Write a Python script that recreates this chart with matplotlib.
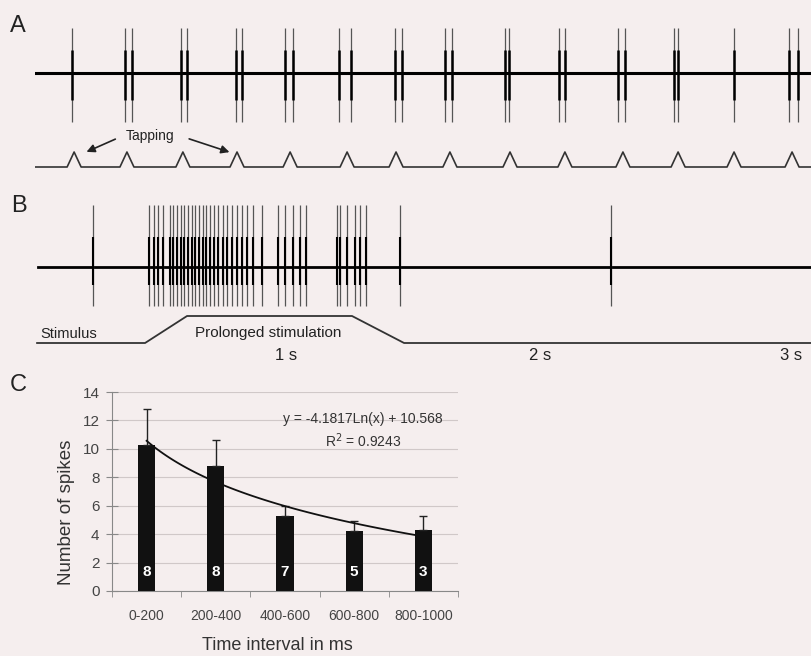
#recreate spike recordings + spike count bar chart
import numpy as np
import matplotlib
matplotlib.use('Agg')
import matplotlib.pyplot as plt

plt.rcParams['font.family'] = ['Liberation Sans', 'DejaVu Sans']

#panel A: spike times (s) and tapping times (s)
a_spikes = [0.143, 0.347, 0.375, 0.564, 0.587, 0.776, 0.799, 0.965, 0.996,
            1.174, 1.220, 1.390, 1.417, 1.583, 1.610, 1.815, 1.830, 2.023,
            2.046, 2.251, 2.278, 2.467, 2.483, 2.699, 2.911, 2.946]
taps = [0.151, 0.355, 0.571, 0.780, 0.985, 1.205, 1.394, 1.602, 1.834,
        2.046, 2.270, 2.483, 2.699, 2.923]

#panel B: spike times (s) and stimulus ramp
b_spikes = [0.224, 0.440, 0.459, 0.475, 0.494, 0.521, 0.533, 0.548, 0.564,
            0.575, 0.591, 0.606, 0.618, 0.633, 0.649, 0.660, 0.676, 0.691,
            0.707, 0.726, 0.741, 0.761, 0.780, 0.799, 0.819, 0.842, 0.876,
            0.938, 0.965, 0.996, 1.023, 1.046, 1.166, 1.178, 1.205, 1.236,
            1.255, 1.278, 1.409, 2.224]
stim_t = [0.0, 0.417, 0.579, 1.216, 1.417, 3.0]
stim_level = [0, 0, 1, 1, 0, 0]
scale_labels = ['1 s', '2 s', '3 s']
scale_pos = [0.97, 1.95, 2.92]

#panel C: bar data
intervals = ['0-200', '200-400', '400-600', '600-800', '800-1000']
mean_spikes = [10.3, 8.8, 5.3, 4.2, 4.3]
err_spikes = [2.5, 1.8, 0.7, 0.7, 1.0]
n_cells = [8, 8, 7, 5, 3]
fit_a, fit_b = -4.1817, 10.568

bg = '#f5eeee'
fig = plt.figure(figsize=(8.12, 6.56), dpi=100, facecolor=bg)

#---- panel A
ax_a = fig.add_axes([35/812, 1-175/656, 777/812, 155/656])
ax_a.set_xlim(0, 3)
ax_a.set_ylim(-102, 53)
ax_a.axis('off')
ax_a.axhline(0, color='black', lw=2.2)
ax_a.vlines(a_spikes, -49, 45, color='#555555', lw=0.9)
ax_a.vlines(a_spikes, -27, 23, color='black', lw=1.8)

tap_w, tap_h, tap_base = 0.027, 15, -94
tx, ty = [0.0], [0.0]
for t in taps:
    tx += [t - tap_w, t, t + tap_w]
    ty += [0, tap_h, 0]
tx.append(3.0)
ty.append(0.0)
ax_a.plot(tx, np.array(ty) + tap_base, color='#333333', lw=1.2)

ax_a.text(0.444, -63, 'Tapping', ha='center', va='center', fontsize=10, color='#222222')
arrow = dict(arrowstyle='-|>', color='#222222', lw=1.2, mutation_scale=12)
ax_a.annotate('', xy=(0.189, -80), xytext=(0.32, -65), arrowprops=arrow)
ax_a.annotate('', xy=(0.761, -80), xytext=(0.585, -65), arrowprops=arrow)

#---- panel B
ax_b = fig.add_axes([35/812, 1-365/656, 777/812, 170/656])
ax_b.set_xlim(0, 3)
ax_b.set_ylim(-98, 72)
ax_b.axis('off')
ax_b.plot([0.01, 3.0], [0, 0], color='black', lw=2.0)
ax_b.vlines(b_spikes, -39, 62, color='#555555', lw=0.9)
ax_b.vlines(b_spikes, -18, 30, color='black', lw=1.5)

stim_base, stim_h = -76, 27
ax_b.plot(np.array(stim_t) + 0.008, np.array(stim_level) * stim_h + stim_base,
          color='#333333', lw=1.3)
ax_b.text(0.02, -74, 'Stimulus', ha='left', va='bottom', fontsize=10.5, color='#222222')
ax_b.text(0.90, -66, 'Prolonged stimulation', ha='center', va='center',
          fontsize=11, color='#222222')
for lab, x in zip(scale_labels, scale_pos):
    ax_b.text(x, -89, lab, ha='center', va='center', fontsize=12, color='#222222')

#---- panel letters
fig.text(10/812, 1-26/656, 'A', fontsize=17, va='center', ha='left', color='#222222')
fig.text(11/812, 1-206/656, 'B', fontsize=17, va='center', ha='left', color='#222222')
fig.text(10/812, 1-385/656, 'C', fontsize=17, va='center', ha='left', color='#222222')

#---- panel C
ax_c = fig.add_axes([112/812, 1-591/656, 346/812, 199/656])
ax_c.set_facecolor(bg)
x = np.arange(len(intervals)) + 0.5
ax_c.bar(x, mean_spikes, width=0.25, color='#111111', zorder=3)
ax_c.errorbar(x, mean_spikes, yerr=[np.zeros(len(err_spikes)), err_spikes],
              fmt='none', ecolor='#222222', elinewidth=1, capsize=3, zorder=3)
fx = np.linspace(1, 5, 100)
ax_c.plot(fx - 0.5, fit_a * np.log(fx) + fit_b, color='#111111', lw=1.3, zorder=4)
for xi, n in zip(x, n_cells):
    ax_c.text(xi, 1.34, str(n), ha='center', va='center', color='white',
              fontsize=11, fontweight='bold', zorder=5)

ax_c.set_xlim(0, 5)
ax_c.set_ylim(0, 14)
ax_c.set_yticks(range(0, 15, 2))
ax_c.set_xticks(x)
ax_c.set_xticklabels(intervals)
ax_c.set_xticks(range(0, 6), minor=True)
ax_c.tick_params(axis='x', which='major', length=0, pad=13, labelsize=10, labelcolor='#444444')
ax_c.tick_params(axis='x', which='minor', length=4, color='#888888')
ax_c.tick_params(axis='y', direction='inout', length=8, color='#888888',
                 labelsize=11, labelcolor='#444444', pad=5)
for s in ['top', 'right']:
    ax_c.spines[s].set_visible(False)
for s in ['left', 'bottom']:
    ax_c.spines[s].set_color('#888888')
ax_c.grid(axis='y', color='#d0c8c8', lw=0.8, zorder=0)

ax_c.text(0.725, 0.863, 'y = -4.1817Ln(x) + 10.568', transform=ax_c.transAxes,
          ha='center', va='center', fontsize=10, color='#333333')
ax_c.text(0.725, 0.757, 'R$^2$ = 0.9243', transform=ax_c.transAxes,
          ha='center', va='center', fontsize=10, color='#333333')

fig.text(67/812, 1-512/656, 'Number of spikes', rotation=90, ha='center', va='center',
         fontsize=13.5, color='#333333')
fig.text(277/812, 1-645/656, 'Time interval in ms', ha='center', va='center',
         fontsize=13, color='#333333')

fig.savefig('out.png', dpi=100, facecolor=bg)
